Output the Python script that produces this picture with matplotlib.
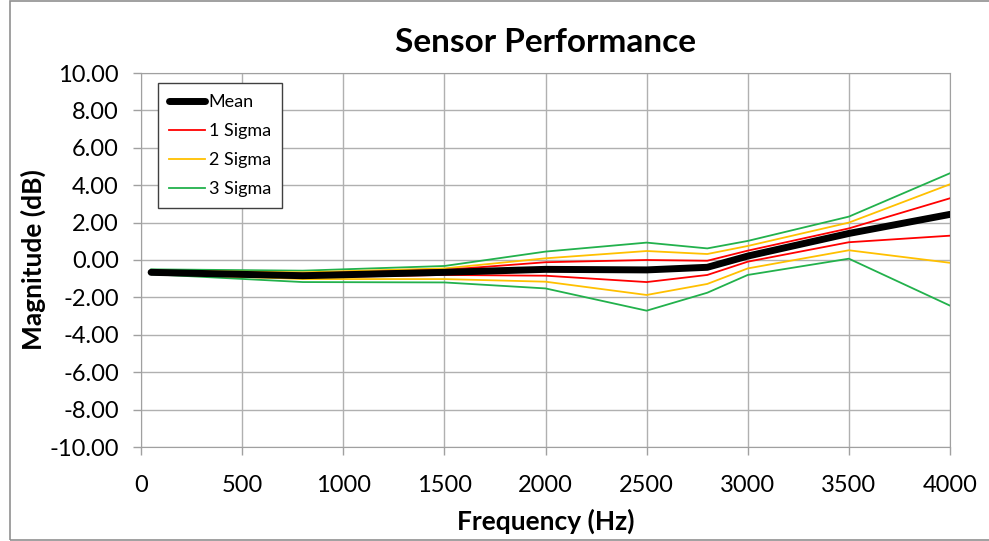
import matplotlib
matplotlib.use("Agg")
import matplotlib.pyplot as plt
from matplotlib.ticker import FormatStrFormatter

freq = [50, 800, 1500, 2000, 2500, 2800, 3000, 3500, 4000]
mean = [-0.66, -0.84, -0.66, -0.50, -0.53, -0.39, 0.21, 1.42, 2.44]
sig1_hi = [-0.60, -0.73, -0.53, -0.12, 0.00, -0.04, 0.50, 1.69, 3.30]
sig1_lo = [-0.70, -0.93, -0.80, -0.84, -1.18, -0.80, -0.09, 0.95, 1.30]
sig2_hi = [-0.57, -0.66, -0.45, 0.09, 0.48, 0.32, 0.75, 2.00, 4.05]
sig2_lo = [-0.73, -1.02, -1.02, -1.16, -1.87, -1.28, -0.45, 0.52, -0.15]
sig3_hi = [-0.50, -0.57, -0.32, 0.45, 0.93, 0.62, 1.02, 2.32, 4.64]
sig3_lo = [-0.76, -1.18, -1.20, -1.52, -2.71, -1.75, -0.80, 0.07, -2.44]

plt.rcParams["font.family"] = ["Lato", "DejaVu Sans"]

fig = plt.figure(figsize=(9.89, 5.41), dpi=100)
ax = fig.add_axes([141 / 989, 1 - 447 / 541, 809 / 989, 374 / 541])

ax.plot(freq, sig3_hi, color="#22b14c", lw=1.3, label="3 Sigma", zorder=2)
ax.plot(freq, sig3_lo, color="#22b14c", lw=1.3, zorder=2)
ax.plot(freq, sig2_hi, color="#ffc000", lw=1.3, label="2 Sigma", zorder=3)
ax.plot(freq, sig2_lo, color="#ffc000", lw=1.3, zorder=3)
ax.plot(freq, sig1_hi, color="#ff0000", lw=1.3, label="1 Sigma", zorder=4)
ax.plot(freq, sig1_lo, color="#ff0000", lw=1.3, zorder=4)
ax.plot(freq, mean, color="black", lw=5, solid_capstyle="round",
        label="Mean", zorder=5)

ax.set_xlim(0, 4000)
ax.set_ylim(-10, 10)
ax.set_xticks(range(0, 4001, 500))
ax.set_yticks(range(-10, 11, 2))
ax.yaxis.set_major_formatter(FormatStrFormatter("%.2f"))
ax.tick_params(labelsize=17, length=6, color="#a0a0a0", width=1)
ax.tick_params(axis="y", pad=10)
ax.tick_params(axis="x", pad=14)
ax.grid(True, color="#b0b0b0", lw=1)
for s in ax.spines.values():
    s.set_color("#a0a0a0")

ax.set_title("Sensor Performance", fontsize=24, fontweight="bold", pad=15)
ax.set_xlabel("Frequency (Hz)", fontsize=19, fontweight="bold", labelpad=9)
ax.set_ylabel("Magnitude (dB)", fontsize=19, fontweight="bold", labelpad=2)

h, l = ax.get_legend_handles_labels()
order = [3, 2, 1, 0]
leg = ax.legend([h[i] for i in order], [l[i] for i in order],
                loc="upper left", bbox_to_anchor=(0.021, 0.973),
                borderaxespad=0, fontsize=13, fancybox=False, framealpha=1,
                edgecolor="#404040", handlelength=2.0, handletextpad=0.2,
                labelspacing=0.72, borderpad=0.6)
leg.get_frame().set_linewidth(1)

fig.patches.append(plt.Rectangle((9.5 / 989, 1 / 541), 1.0, 539 / 541,
                                 transform=fig.transFigure, fill=False,
                                 edgecolor="#909090", lw=1.2))

fig.savefig("out.png", dpi=100)
